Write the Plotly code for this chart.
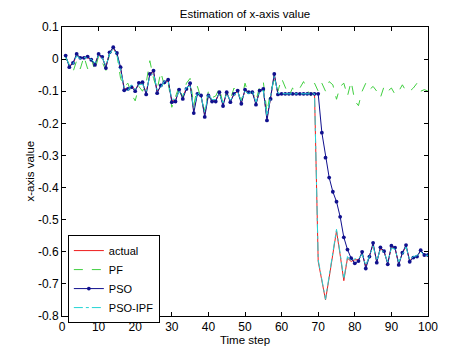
import plotly.graph_objects as go

time_steps = list(range(1, 101))

pso = [0.011, -0.025, -0.012, 0.016, 0.004, 0.004, 0.008, -0.002, -0.018, 0.016,
       0.007, -0.028, 0.021, 0.037, 0.019, -0.025, -0.097, -0.093, -0.087, -0.100,
       -0.074, -0.072, -0.110, -0.046, -0.036, -0.106, -0.082, -0.072, -0.064, -0.134,
       -0.132, -0.095, -0.124, -0.093, -0.075, -0.168, -0.108, -0.113, -0.180, -0.113,
       -0.132, -0.132, -0.103, -0.146, -0.103, -0.134, -0.108, -0.098, -0.139, -0.095,
       -0.103, -0.103, -0.142, -0.098, -0.093, -0.191, -0.124, -0.046, -0.110, -0.108,
       -0.108, -0.108, -0.108, -0.108, -0.108, -0.108, -0.108, -0.108, -0.108, -0.108,
       -0.229, -0.307, -0.369, -0.413, -0.444, -0.491, -0.555, -0.593, -0.620, -0.636,
       -0.629, -0.600, -0.652, -0.615, -0.572, -0.634, -0.586, -0.598, -0.639, -0.581,
       -0.587, -0.641, -0.603, -0.579, -0.631, -0.618, -0.615, -0.595, -0.610, -0.610]

actual = [0.008, -0.020, -0.015, 0.012, 0.002, 0.006, 0.004, 0.000, -0.014, 0.012,
          0.004, -0.022, 0.018, 0.034, 0.016, -0.030, -0.090, -0.096, -0.082, -0.096,
          -0.078, -0.076, -0.104, -0.050, -0.040, -0.100, -0.086, -0.070, -0.068, -0.128,
          -0.128, -0.098, -0.118, -0.090, -0.080, -0.160, -0.104, -0.116, -0.172, -0.110,
          -0.128, -0.128, -0.106, -0.140, -0.106, -0.130, -0.110, -0.100, -0.134, -0.098,
          -0.106, -0.100, -0.138, -0.100, -0.096, -0.184, -0.120, -0.050, -0.108, -0.108,
          -0.108, -0.108, -0.108, -0.108, -0.108, -0.108, -0.108, -0.108, -0.108, -0.630,
          -0.690, -0.750, -0.680, -0.605, -0.535, -0.610, -0.690, -0.620, -0.630, -0.625,
          -0.625, -0.605, -0.645, -0.612, -0.578, -0.630, -0.590, -0.600, -0.635, -0.585,
          -0.590, -0.636, -0.605, -0.582, -0.628, -0.616, -0.613, -0.598, -0.612, -0.612]

pso_ipf = [0.006, -0.018, -0.016, 0.010, 0.001, 0.005, 0.003, -0.001, -0.012, 0.010,
           0.003, -0.020, 0.016, 0.032, 0.014, -0.034, -0.088, -0.098, -0.080, -0.094,
           -0.080, -0.078, -0.100, -0.054, -0.044, -0.096, -0.088, -0.068, -0.070, -0.124,
           -0.126, -0.100, -0.114, -0.088, -0.084, -0.154, -0.102, -0.118, -0.166, -0.108,
           -0.126, -0.126, -0.108, -0.136, -0.108, -0.128, -0.112, -0.102, -0.130, -0.100,
           -0.108, -0.098, -0.134, -0.102, -0.098, -0.178, -0.118, -0.054, -0.106, -0.108,
           -0.108, -0.108, -0.108, -0.108, -0.108, -0.108, -0.108, -0.108, -0.108, -0.625,
           -0.685, -0.748, -0.675, -0.600, -0.530, -0.605, -0.685, -0.615, -0.628, -0.622,
           -0.622, -0.608, -0.642, -0.614, -0.582, -0.628, -0.592, -0.602, -0.632, -0.588,
           -0.592, -0.632, -0.607, -0.585, -0.625, -0.615, -0.612, -0.600, -0.611, -0.611]

pf = [0.005, -0.020, -0.040, -0.005, -0.030, 0.008, -0.030, 0.000, -0.035, 0.010,
      -0.010, -0.035, 0.015, 0.030, 0.015, -0.060, -0.085, -0.075, -0.110, -0.130,
      -0.085, -0.100, -0.075, -0.005, -0.060, -0.095, -0.040, -0.085, -0.070, -0.150,
      -0.115, -0.085, -0.120, -0.075, -0.060, -0.145, -0.085, -0.125, -0.160, -0.100,
      -0.120, -0.115, -0.090, -0.140, -0.100, -0.125, -0.090, -0.110, -0.130, -0.075,
      -0.110, -0.100, -0.130, -0.085, -0.070, -0.165, -0.100, -0.065, -0.100, -0.060,
      -0.085, -0.115, -0.090, -0.100, -0.090, -0.070, -0.095, -0.115, -0.075, -0.100,
      -0.075, -0.100, -0.070, -0.080, -0.125, -0.085, -0.075, -0.115, -0.070, -0.130,
      -0.145, -0.100, -0.075, -0.095, -0.085, -0.100, -0.120, -0.085, -0.100, -0.090,
      -0.110, -0.100, -0.080, -0.100, -0.100, -0.090, -0.075, -0.100, -0.095, -0.100]

x_ticks = [0, 10, 20, 30, 40, 50, 60, 70, 80, 90, 100]
y_ticks = [0.1, 0.0, -0.1, -0.2, -0.3, -0.4, -0.5, -0.6, -0.7, -0.8]
y_tick_labels = ["0.1", "0", "-0.1", "-0.2", "-0.3", "-0.4", "-0.5", "-0.6", "-0.7", "-0.8"]

font_family = "Liberation Sans, Arial, sans-serif"

fig = go.Figure()
fig.add_trace(go.Scatter(x=time_steps, y=actual, name="actual", mode="lines",
                         line=dict(color="#ee1c1c", width=1)))
fig.add_trace(go.Scatter(x=time_steps, y=pf, name="PF", mode="lines",
                         line=dict(color="#3fcf3f", width=1, dash="dash")))
fig.add_trace(go.Scatter(x=time_steps, y=pso, name="PSO", mode="lines+markers",
                         line=dict(color="#10108e", width=1),
                         marker=dict(color="#10108e", size=3.8, symbol="circle")))
fig.add_trace(go.Scatter(x=time_steps, y=pso_ipf, name="PSO-IPF", mode="lines",
                         line=dict(color="#22d4d4", width=1, dash="dashdot")))

axis_common = dict(showline=True, linecolor="black", linewidth=1, mirror="ticks",
                   ticks="inside", ticklen=4, tickcolor="black", showgrid=False,
                   zeroline=False, tickfont=dict(family=font_family, size=12, color="black"))

# the page has an 8px body margin, so the figure is 8px smaller and shifted
W, H = 466, 347
fig.update_layout(
    width=W, height=H,
    margin=dict(l=54, r=46, t=19, b=37),
    paper_bgcolor="white", plot_bgcolor="white",
    font=dict(family=font_family, size=11, color="black"),
    title=dict(text="Estimation of x-axis value", x=0.5, xref="paper",
               y=1 - 6 / H, yref="container", yanchor="middle",
               font=dict(family=font_family, size=11.5, color="black")),
    xaxis=dict(range=[0, 100], tickvals=x_ticks,
               title=dict(text="Time step", standoff=1,
                          font=dict(family=font_family, size=11.5)),
               **axis_common),
    yaxis=dict(range=[-0.8, 0.1], tickvals=y_ticks, ticktext=y_tick_labels,
               **axis_common),
    legend=dict(x=0.016, y=0.28, xanchor="left", yanchor="top",
                bgcolor="white", bordercolor="black", borderwidth=1,
                font=dict(family=font_family, size=11, color="black"),
                tracegroupgap=0, itemwidth=30),
    showlegend=True,
)
fig.add_annotation(text="x-axis value", xref="paper", yref="paper", x=0, y=0.5,
                   xanchor="center", yanchor="middle",
                   xshift=-33, textangle=-90, showarrow=False,
                   font=dict(family=font_family, size=11.5, color="black"))

fig.write_html("out.html")
